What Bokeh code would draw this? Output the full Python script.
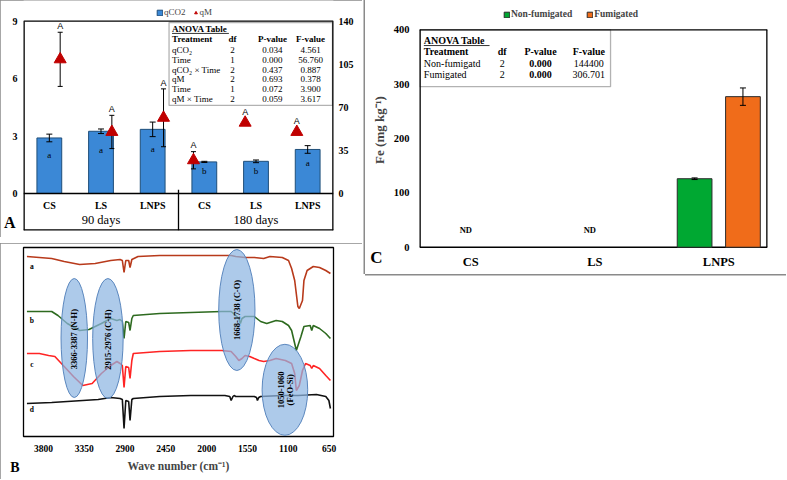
import numpy as np
from bokeh.plotting import figure
from bokeh.models import (Range1d, LinearAxis, FixedTicker, Legend, LegendItem, BoxAnnotation)
from bokeh.layouts import row, column
from bokeh.embed import file_html
from bokeh.resources import INLINE
from bokeh.core.properties import value

SERIF = "Liberation Serif"
SANS = "Liberation Sans"

# ---------------- Panel A data ----------------
times = ["90 days", "180 days"]
treatments = ["CS", "LS", "LNPS"]
qco2 = [2.9, 3.25, 3.35, 1.65, 1.68, 2.3]
qco2_err = [0.2, 0.12, 0.38, 0.03, 0.07, 0.2]
qco2_letters = ["a", "a", "a", "b", "b", "a"]
qm = [109, 50, 61.5, 27, 57.5, 50]
qm_err = [22, 13.5, 23.5, 7, 0, 0]
qm_letters = ["A", "A", "A", "A", "A", "A"]
a_left_ticks = [0, 3, 6, 9]
a_right_ticks = [0, 35, 70, 105, 140]

anova_a_treat = ["qCO₂", "Time", "qCO₂ × Time", "qM", "Time", "qM × Time"]
anova_a_df = ["2", "1", "2", "2", "1", "2"]
anova_a_p = ["0.034", "0.000", "0.437", "0.693", "0.072", "0.059"]
anova_a_f = ["4.561", "56.760", "0.887", "0.378", "3.900", "3.617"]
anova_header = ["Treatment", "df", "P-value", "F-value"]

# ---------------- Panel B data (FTIR spectra) ----------------
b_ticks = [3800, 3350, 2900, 2450, 2000, 1550, 1100, 650]
spec_names = ["a", "b", "c", "d"]
spec_a_wn = [3982, 3709, 3571, 3401, 3229, 3058, 2955, 2930, 2911, 2892, 2860, 2845, 2825,
             2757, 2518, 2175, 1833, 1730, 1679, 1576, 1474, 1371, 1302, 1166, 1097, 1063,
             1029, 994, 978, 943, 927, 892, 824, 755, 686, 635]
spec_a_y = [180, 178, 175, 172, 173, 176, 177, 176, 164, 176, 176, 169, 177,
            180, 181, 181, 181, 181, 180, 179, 179, 178, 180, 179, 176, 168,
            156, 130, 128, 136, 156, 166, 170, 169, 166, 163]
spec_b_wn = [3982, 3709, 3640, 3537, 3401, 3298, 3161, 3058, 2990, 2955, 2930, 2911, 2892,
             2860, 2845, 2825, 2809, 2518, 2175, 1833, 1730, 1679, 1645, 1628, 1610, 1576,
             1474, 1405, 1337, 1234, 1166, 1097, 1063, 1029, 1011, 960, 927, 858, 841, 824,
             755, 686, 635]
spec_b_y = [125, 125, 121, 113, 106, 107, 113, 118, 116, 117, 115, 98, 115,
            114, 106, 118, 121, 123, 124, 125, 125, 121, 118, 113, 118, 120,
            120, 115, 113, 116, 115, 111, 106, 93, 86, 100, 110, 111, 106, 111,
            108, 103, 98]
spec_c_wn = [3982, 3845, 3743, 3674, 3571, 3469, 3366, 3263, 3161, 3058, 2990, 2955, 2930,
             2911, 2892, 2860, 2845, 2825, 2809, 2518, 2175, 1833, 1730, 1679, 1645, 1610,
             1576, 1525, 1474, 1422, 1371, 1302, 1234, 1132, 1063, 1029, 1011, 978, 943, 909,
             858, 841, 824, 755, 686, 635]
spec_c_y = [83, 83, 81, 80, 70, 60, 51, 53, 63, 71, 75, 73, 71,
            49, 70, 69, 58, 76, 83, 85, 86, 86, 85, 80, 76, 78,
            81, 80, 78, 76, 75, 76, 78, 76, 73, 63, 46, 51, 66, 73,
            71, 68, 71, 68, 61, 56]
spec_d_wn = [3982, 3709, 3366, 3196, 3058, 2955, 2930, 2911, 2892, 2860, 2845, 2825, 2809,
             2518, 2175, 1799, 1745, 1730, 1710, 1697, 1679, 1474, 1450, 1440, 1425, 1405,
             1166, 994, 789, 686, 652, 635]
spec_d_y = [33, 34, 36, 37, 39, 38, 37, 8, 36, 35, 16, 37, 38,
            40, 41, 41, 40, 36, 40, 41, 40, 40, 39, 36, 39, 40,
            41, 41, 42, 40, 36, 28]
band_labels = ["3366-3387  (N-H)", "2915-2976  (C-H)", "1668-1738 (C-O)", "1050-1060"]
band_label2 = "(FeO-Si)"
band_x = [3460, 3089, 1667, 1137]
band_y = [98.5, 98, 126.5, 46.7]
band_w = [292, 336, 400, 503]
band_h = [119, 120, 121, 91]

# ---------------- Panel C data ----------------
c_cats = ["CS", "LS", "LNPS"]
fe_nonfum = [None, None, 126]
fe_nonfum_err = [0, 0, 1.5]
fe_fum = [None, None, 277]
fe_fum_err = [0, 0, 16]
c_ticks = [0, 100, 200, 300, 400]
anova_c_treat = ["Non-fumigatd", "Fumigated"]
anova_c_df = ["2", "2"]
anova_c_p = ["0.000", "0.000"]
anova_c_f = ["144400", "306.701"]

panel_letters = ["A", "B", "C"]

BORDER = {"outline": "1.5px solid #8a8a8a", "outline-offset": "-1.5px"}
BORDER_C = {"box-shadow": "-1.5px 0 0 0 #8a8a8a, 0 1.5px 0 0 #8a8a8a"}


def style_axis(ax, size="10px", standoff=5):
    ax.axis_line_color = None
    ax.major_tick_line_color = None
    ax.minor_tick_line_color = None
    ax.major_tick_out = 0
    ax.major_tick_in = 0
    ax.major_label_text_font = SERIF
    ax.major_label_text_font_style = "bold"
    ax.major_label_text_font_size = size
    ax.major_label_standoff = standoff
    ax.major_label_text_color = "black"


def letter_axis(p, side, pos, text, size, standoff, **kw):
    ax = LinearAxis(ticker=FixedTicker(ticks=[pos]), major_label_overrides={pos: text}, **kw)
    style_axis(ax, size, standoff)
    p.add_layout(ax, side)
    return ax


def txt(p, x, y, t, size="9px", align="left", bold=False, font=SERIF, **kw):
    p.text(x=x, y=y, text=t, text_font=value(font), text_font_size=size,
           text_font_style="bold" if bold else "normal", text_align=align,
           text_baseline="middle", text_color="black", **kw)


def box_edges(p, l, r, b, t, widths):
    # widths: left, right, bottom, top (edges lying on the frame border are drawn double, half clipped)
    p.segment(x0=[l, r, l, l], y0=[b, b, b, t], x1=[l, r, r, r], y1=[t, t, b, t],
              line_color="black", line_width=widths)


# ============================ Panel A ============================
ylo, ytop = -1.933, 10.08
pA = figure(width=362, height=237, x_range=Range1d(0, 6), y_range=Range1d(ylo, ytop),
            output_backend="svg", toolbar_location=None, x_axis_location=None,
            min_border_left=22, min_border_right=29, min_border_top=0, min_border_bottom=7,
            styles=BORDER)
pA.grid.visible = False
pA.outline_line_color = None
pA.extra_y_ranges = {"qm": Range1d(ylo * 140 / 9, ytop * 140 / 9)}
pA.yaxis.ticker = FixedTicker(ticks=a_left_ticks)
style_axis(pA.yaxis[0], "10px", 6)
letter_axis(pA, "left", -1.52, panel_letters[0], "16px", -6)
axR = LinearAxis(y_range_name="qm", ticker=FixedTicker(ticks=a_right_ticks))
style_axis(axR, "10px", 5)
pA.add_layout(axR, "right")

n_t = len(treatments)
xpos = np.array([ti * n_t + j + 0.5 for ti in range(len(times)) for j in range(n_t)])
side = np.array([1 if ti == 0 else -1 for ti in range(len(times)) for j in range(n_t)])
tri_x = xpos + 0.21 * side
qco2_a = np.array(qco2)
qco2_e = np.array(qco2_err)
qm_a = np.array(qm, dtype=float)
qm_e = np.array(qm_err, dtype=float)

bars = pA.vbar(x=xpos, top=qco2_a, bottom=0, width=0.48, fill_color="#3B88D6",
               line_color="#1F4E79", line_width=1)
pA.segment(x0=xpos, y0=qco2_a - qco2_e, x1=xpos, y1=qco2_a + qco2_e, line_color="black", line_width=1)
pA.scatter(x=np.r_[xpos, xpos], y=np.r_[qco2_a - qco2_e, qco2_a + qco2_e], marker="dash",
           size=6, line_color="black")
txt(pA, xpos, qco2_a * 0.7, qco2_letters, size="9px", align="center")

m = qm_e > 0
pA.segment(x0=tri_x[m], y0=(qm_a - qm_e)[m], x1=tri_x[m], y1=(qm_a + qm_e)[m],
           line_color="black", line_width=1, y_range_name="qm")
pA.scatter(x=np.r_[tri_x[m], tri_x[m]], y=np.r_[(qm_a - qm_e)[m], (qm_a + qm_e)[m]],
           marker="dash", size=5, line_color="black", y_range_name="qm")
tri = pA.scatter(x=tri_x, y=qm_a, marker="triangle", size=12, fill_color="#C00000",
                 line_color="#C00000", y_range_name="qm")
txt(pA, tri_x, qm_a + np.maximum(qm_e, 4) + 5, qm_letters, size="9px", align="center",
    font=SANS, y_range_name="qm")

# plot box and category table under the bars
box_edges(pA, 0, 6, ylo, 9, [2.6, 2.6, 2.6, 1.3])
pA.segment(x0=[0], y0=[0], x1=[6], y1=[0], line_color="black", line_width=1.3)
pA.segment(x0=[n_t], y0=[ylo], x1=[n_t], y1=[0.2], line_color="black", line_width=1.3)
txt(pA, xpos, [-0.63] * len(xpos), treatments * len(times), size="10px", align="center", bold=True)
txt(pA, [ti * n_t + n_t / 2 for ti in range(len(times))], [-1.36] * len(times), times,
    size="12.5px", align="center")

# ANOVA table A
pA.add_layout(BoxAnnotation(left=2.817, right=5.98, bottom=4.60, top=8.93, fill_color="white",
                            fill_alpha=1, line_color="black", line_width=1.3, level="underlay"))
colx_a = [2.875, 4.046, 4.818, 5.557]
txt(pA, [colx_a[0]], [8.59], ["ANOVA Table"], size="9px", bold=True)
pA.segment(x0=[colx_a[0]], y0=[8.36], x1=[colx_a[0] + 1.1], y1=[8.36], line_color="black", line_width=0.8)
txt(pA, [colx_a[0]], [8.06], [anova_header[0]], size="9px", bold=True)
txt(pA, colx_a[1:], [8.06] * 3, anova_header[1:], size="9px", bold=True, align="center")
ry = [7.52 - 0.522 * i for i in range(len(anova_a_treat))]
txt(pA, [colx_a[0]] * len(ry), ry, anova_a_treat, size="9px")
txt(pA, [colx_a[1]] * len(ry), ry, anova_a_df, size="9px", align="center")
txt(pA, [colx_a[2]] * len(ry), ry, anova_a_p, size="9px", align="center")
txt(pA, [colx_a[3]] * len(ry), ry, anova_a_f, size="9px", align="center")

legA = Legend(items=[LegendItem(label="qCO2", renderers=[bars]), LegendItem(label="qM", renderers=[tri])],
              orientation="horizontal", location=(133, 213), label_text_font=SERIF,
              label_text_font_size="9px", glyph_width=7, glyph_height=7, label_height=9,
              padding=1, margin=0, spacing=6, label_standoff=1, border_line_color=None,
              background_fill_alpha=0)
pA.add_layout(legA)

# ============================ Panel B ============================
pB = figure(width=362, height=236, x_range=Range1d(4020, 601), y_range=Range1d(0, 189),
            output_backend="svg", toolbar_location=None, y_axis_location=None,
            min_border_left=17, min_border_right=12, min_border_top=4, min_border_bottom=43,
            styles=BORDER)
pB.grid.visible = False
pB.outline_line_color = "black"
pB.outline_line_width = 1.3
pB.xaxis.ticker = FixedTicker(ticks=b_ticks)
style_axis(pB.xaxis[0], "9.5px", 8)
pB.xaxis.axis_label = "Wave number (cm⁻¹)"
pB.xaxis.axis_label_text_font = SERIF
pB.xaxis.axis_label_text_font_size = "11.5px"
pB.xaxis.axis_label_text_font_style = "bold"
pB.xaxis.axis_label_standoff = 5
letter_axis(pB, "below", 4017, panel_letters[1] + "\u00a0" * 5, "14px", -15)

spec_colors = ["#B83A1B", "#2D6A1F", "#FF2424", "#111111"]
for wn, yy, col in zip([spec_a_wn, spec_b_wn, spec_c_wn, spec_d_wn],
                       [spec_a_y, spec_b_y, spec_c_y, spec_d_y], spec_colors):
    pB.line(x=wn, y=yy, line_color=col, line_width=1.6)
txt(pB, [3928] * 4, [170, 116, 72, 27], spec_names, size="7.5px", bold=True, align="center")

pB.ellipse(x=band_x, y=band_y, width=band_w, height=band_h, fill_color="#8DB6E2",
           fill_alpha=0.72, line_color="#5B87BE", line_width=1)
txt(pB, band_x[:3], band_y[:3], band_labels[:3], size="8.5px", bold=True, align="center",
    angle=np.pi / 2)
pB.text(x=[band_x[3], band_x[3]], y=[band_y[3], band_y[3]], text=[band_labels[3], band_label2],
        x_offset=[-4, 5], angle=np.pi / 2, text_font=value(SERIF), text_font_size="8.5px",
        text_font_style="bold", text_align="center", text_baseline="middle", text_color="black")

# ============================ Panel C ============================
cbot, ctop = -18.9, 450.2
pC = figure(width=421, height=274, x_range=Range1d(-0.414, 2.393), y_range=Range1d(cbot, ctop),
            output_backend="svg", toolbar_location=None,
            min_border_left=54, min_border_right=19, min_border_top=2, min_border_bottom=17,
            styles=BORDER_C)
pC.grid.visible = False
pC.outline_line_color = None
pC.yaxis.ticker = FixedTicker(ticks=c_ticks)
style_axis(pC.yaxis[0], "10.5px", 10)
pC.yaxis.axis_label = "Fe (mg kg⁻¹)"
pC.yaxis.axis_label_text_font = SERIF
pC.yaxis.axis_label_text_font_size = "13px"
pC.yaxis.axis_label_text_font_style = "bold"
pC.yaxis.axis_label_standoff = 4
letter_axis(pC, "left", cbot + 0.2, panel_letters[2], "17px", -14)
pC.xaxis.ticker = FixedTicker(ticks=list(range(len(c_cats))))
pC.xaxis.major_label_overrides = {i: c for i, c in enumerate(c_cats)}
style_axis(pC.xaxis[0], "12.5px", -3)

box_edges(pC, -0.414, 2.393, 0, 400, [2.6, 2.6, 1.3, 1.3])

idx = [i for i in range(len(c_cats)) if fe_nonfum[i] is not None]
ndx = [i for i in range(len(c_cats)) if fe_nonfum[i] is None]
gx = np.array(idx) - 0.195
ox = np.array(idx) + 0.195
gv = np.array([fe_nonfum[i] for i in idx], dtype=float)
ge = np.array([fe_nonfum_err[i] for i in idx], dtype=float)
ov = np.array([fe_fum[i] for i in idx], dtype=float)
oe = np.array([fe_fum_err[i] for i in idx], dtype=float)
gbar = pC.vbar(x=gx, top=gv, bottom=0, width=0.28, fill_color="#00A832", line_color="#2b2b2b", line_width=1)
obar = pC.vbar(x=ox, top=ov, bottom=0, width=0.28, fill_color="#F06C1A", line_color="#2b2b2b", line_width=1)
for xx, vv, ee in [(gx, gv, ge), (ox, ov, oe)]:
    pC.segment(x0=xx, y0=vv - ee, x1=xx, y1=vv + ee, line_color="black", line_width=1)
    pC.scatter(x=np.r_[xx, xx], y=np.r_[vv - ee, vv + ee], marker="dash", size=6, line_color="black")
txt(pC, [i - 0.04 for i in ndx], [31] * len(ndx), ["ND"] * len(ndx), size="8.5px", bold=True, align="center")

# ANOVA table C
pC.add_layout(BoxAnnotation(left=-0.414, right=1.127, bottom=295.3, top=400, fill_color="white",
                            fill_alpha=1, line_color="black", line_width=1.3, level="underlay"))
colx_c = [-0.379, 0.253, 0.562, 0.952]
txt(pC, [colx_c[0]], [381], ["ANOVA Table"], size="10px", bold=True)
pC.segment(x0=[colx_c[0]], y0=[371], x1=[colx_c[0] + 0.53], y1=[371], line_color="black", line_width=0.8)
txt(pC, [colx_c[0]], [359.6], [anova_header[0]], size="10px", bold=True)
txt(pC, colx_c[1:], [359.6] * 3, anova_header[1:], size="10px", bold=True, align="center")
rc = [338, 317.3]
txt(pC, [colx_c[0]] * 2, rc, anova_c_treat, size="10px")
txt(pC, [colx_c[1]] * 2, rc, anova_c_df, size="10px", align="center")
txt(pC, [colx_c[2]] * 2, rc, anova_c_p, size="10px", bold=True, align="center")
txt(pC, [colx_c[3]] * 2, rc, anova_c_f, size="10px", align="center")

legC = Legend(items=[LegendItem(label="Non-fumigated", renderers=[gbar]),
                     LegendItem(label="Fumigated", renderers=[obar])],
              orientation="horizontal", location=(84, 238), label_text_font=SERIF,
              label_text_font_size="9.5px", label_text_font_style="bold", glyph_width=7,
              glyph_height=7, label_height=10, padding=1, margin=0, spacing=14,
              label_standoff=1, border_line_color=None, background_fill_alpha=0)
pC.add_layout(legC)

layout = row(column(pA, pB, spacing=6), pC, spacing=3)
open("out.html", "w").write(file_html(layout, INLINE))
